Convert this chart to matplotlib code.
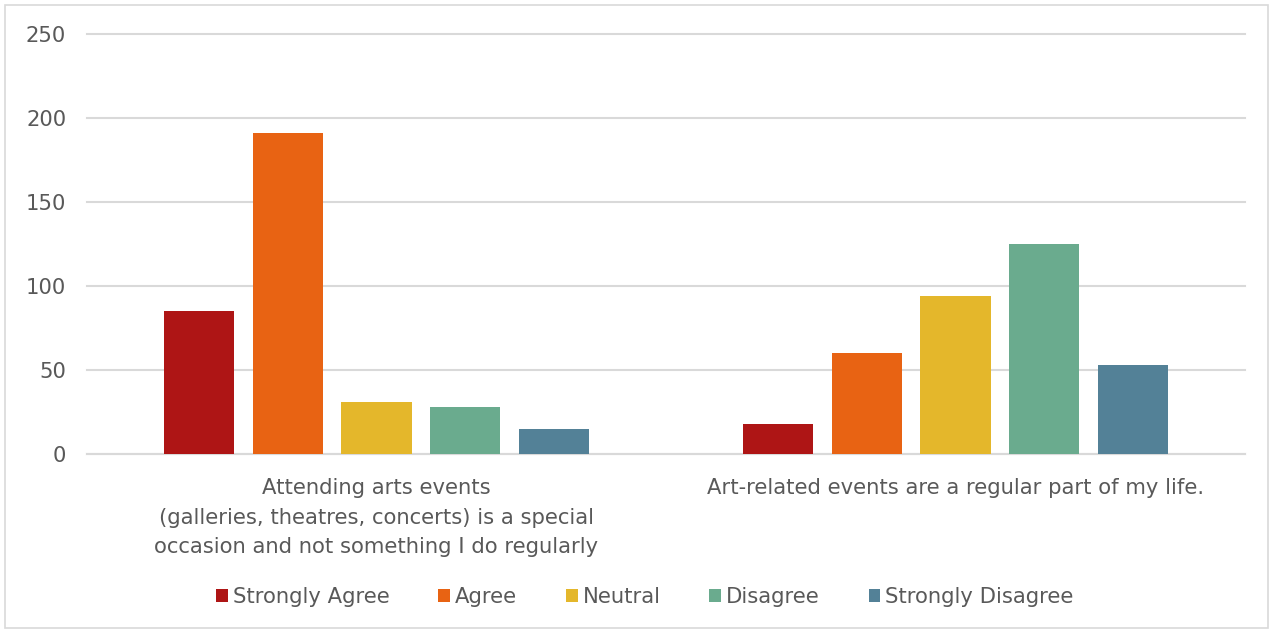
import numpy as np
import matplotlib
matplotlib.use("Agg")
import matplotlib.pyplot as plt
from matplotlib.patches import Rectangle

categories = [
    "Attending arts events\n(galleries, theatres, concerts) is a special\noccasion and not something I do regularly",
    "Art-related events are a regular part of my life.",
]
responses = ["Strongly Agree", "Agree", "Neutral", "Disagree", "Strongly Disagree"]
counts = {
    "Strongly Agree": [85, 18],
    "Agree": [191, 60],
    "Neutral": [31, 94],
    "Disagree": [28, 125],
    "Strongly Disagree": [15, 53],
}
colors = ["#AE1515", "#E86313", "#E4B72B", "#6AAB8E", "#538197"]
yticks = [0, 50, 100, 150, 200, 250]

plt.rcParams["font.family"] = ["DejaVu Sans"]
text_color = "#595959"
grid_color = "#D9D9D9"
fs = 15.2

fig = plt.figure(figsize=(12.74, 6.32), dpi=100)
ax = fig.add_axes([87 / 1274, (632 - 454) / 632, (1245 - 87) / 1274, 420 / 632])

# chart-area frame
fig.patches.append(Rectangle((5 / 1274, 4 / 632), 1263 / 1274, 623 / 632,
                             transform=fig.transFigure, fill=False,
                             edgecolor=grid_color, lw=1.2))

x = np.arange(len(categories))
width = 0.1209
step = 0.1537
for i, (name, c) in enumerate(zip(responses, colors)):
    ax.bar(x + (i - 2) * step, counts[name], width, color=c, label=name, zorder=3)

ax.set_xlim(-0.5, 1.5)
ax.set_ylim(0, 250)
ax.set_yticks(yticks)
ax.set_xticks(x)
ax.set_xticklabels(categories, fontsize=fs, color=text_color, linespacing=1.62)
ax.tick_params(axis="y", length=0, labelsize=fs, labelcolor=text_color, pad=15)
ax.tick_params(axis="x", length=0, pad=17)
ax.grid(axis="y", color=grid_color, lw=1.5, zorder=0)
for gl in ax.get_ygridlines():
    gl.set_clip_on(False)
for s in ["top", "right", "left"]:
    ax.spines[s].set_visible(False)
ax.spines["bottom"].set_color(grid_color)
ax.spines["bottom"].set_linewidth(1.5)

fig.legend(loc="center", bbox_to_anchor=(645 / 1274, (632 - 597) / 632), ncol=5,
           frameon=False, fontsize=fs, labelcolor=text_color,
           handlelength=0.55, handleheight=0.55, handletextpad=0.25, columnspacing=2.3)

fig.savefig("out.png", dpi=100)
